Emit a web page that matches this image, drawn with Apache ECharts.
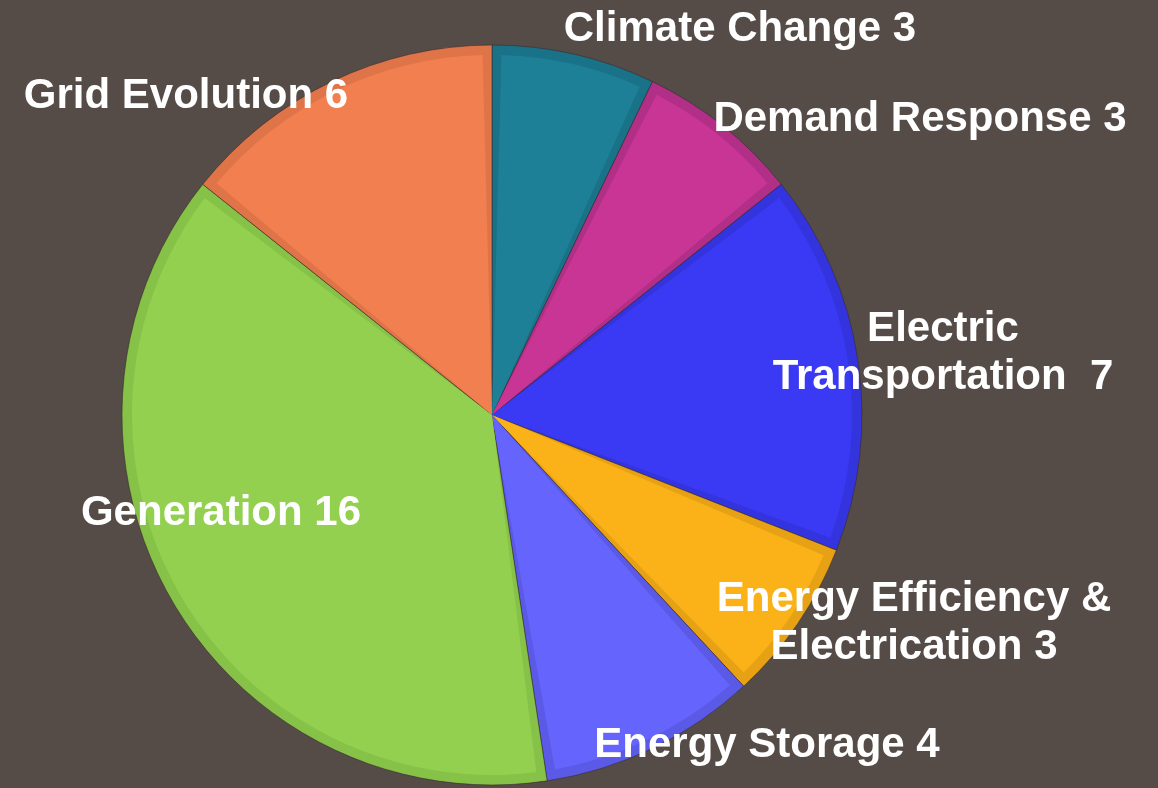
<!DOCTYPE html>
<html>
<head>
<meta charset="utf-8">
<script src="https://cdn.jsdelivr.net/npm/echarts@6/dist/echarts.min.js"></script>
<style>
html,body{margin:0;padding:0;background:#554b47;}
#chart{width:1158px;height:788px;}
</style>
</head>
<body>
<div id="chart"></div>
<script>
const categories = ['Climate Change', 'Demand Response', 'Electric\nTransportation ', 'Energy Efficiency &\nElectrication', 'Energy Storage', 'Generation', 'Grid Evolution'];
const values = [3, 3, 7, 3, 4, 16, 6];
const fillColors = ['#1d8096', '#c83595', '#3a3af5', '#fab218', '#6565fd', '#93d050', '#f27f4f'];
const edgeColors = ['#1a7288', '#b22f88', '#3434de', '#e6a214', '#5a5ae6', '#86c247', '#df7449'];
const labelPos = [[740, 29], [920, 119], [943, 353], [914, 623], [767, 745], [221, 513], [186, 96]];

const chart = echarts.init(document.getElementById('chart'));
const center = [492, 415];
chart.setOption({
  backgroundColor: '#554b47',
  animation: false,
  series: [
    {
      type: 'pie',
      center: center,
      radius: [0, 370],
      startAngle: 90,
      clockwise: true,
      data: categories.map((c, i) => ({
        name: c, value: values[i],
        itemStyle: { color: edgeColors[i] }
      })),
      itemStyle: { borderColor: 'rgba(55,40,40,0.55)', borderWidth: 1 },
      label: { show: false },
      labelLine: { show: false },
      emphasis: { disabled: true },
      silent: true,
      z: 1
    },
    {
      type: 'pie',
      center: center,
      radius: [0, 360],
      startAngle: 90,
      clockwise: true,
      padAngle: 3,
      data: categories.map((c, i) => ({
        name: c, value: values[i],
        itemStyle: { color: fillColors[i] }
      })),
      label: {
        show: true,
        position: 'outside',
        formatter: p => p.name + ' ' + p.value,
        color: '#ffffff',
        fontFamily: 'Liberation Sans, Arial, sans-serif',
        fontWeight: 'bold',
        fontSize: 42,
        lineHeight: 48,
        align: 'center',
        overflow: 'none',
        width: 600
      },
      labelLine: { show: false },
      labelLayout: function (params) {
        const p = labelPos[params.dataIndex];
        return { x: p[0], y: p[1], align: 'center', verticalAlign: 'middle', hideOverlap: false, moveOverlap: null };
      },
      emphasis: { disabled: true },
      z: 2
    }
  ]
});
</script>
</body>
</html>
